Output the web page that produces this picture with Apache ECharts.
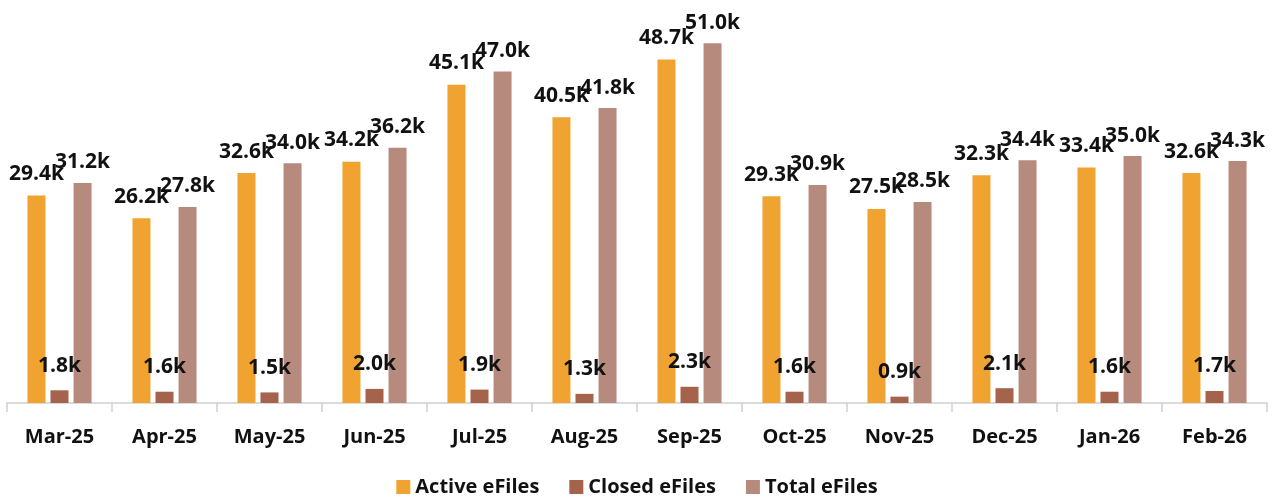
<!DOCTYPE html>
<html>
<head>
<meta charset="utf-8">
<script src="https://cdn.jsdelivr.net/npm/echarts@6/dist/echarts.min.js"></script>
<style>
  html, body { margin: 0; padding: 0; background: #fff; }
  #chart { width: 1274px; height: 503px; }
</style>
</head>
<body>
<div id="chart"></div>
<script>
const months = ['Mar-25', 'Apr-25', 'May-25', 'Jun-25', 'Jul-25', 'Aug-25', 'Sep-25', 'Oct-25', 'Nov-25', 'Dec-25', 'Jan-26', 'Feb-26'];
const activeFiles = [29.4, 26.2, 32.6, 34.2, 45.1, 40.5, 48.7, 29.3, 27.5, 32.3, 33.4, 32.6];
const closedFiles = [1.8, 1.6, 1.5, 2.0, 1.9, 1.3, 2.3, 1.6, 0.9, 2.1, 1.6, 1.7];
const totalFiles = [31.2, 27.8, 34.0, 36.2, 47.0, 41.8, 51.0, 30.9, 28.5, 34.4, 35.0, 34.3];

const font = '"Open Sans", "Liberation Sans", sans-serif';

function barSeries(name, data, color, dist) {
    return {
        name,
        type: 'bar',
        data,
        barWidth: 18,
        barGap: '28%',
        itemStyle: { color },
        label: {
            show: true,
            position: 'top',
            distance: dist,
            formatter: p => p.value.toFixed(1) + 'k',
            fontFamily: font,
            fontWeight: 'bold',
            fontSize: 21,
            color: '#111'
        }
    };
}

const chart = echarts.init(document.getElementById('chart'));
chart.setOption({
    animation: false,
    textStyle: { fontFamily: font },
    grid: { left: 7, right: 7, top: 15, bottom: 100, containLabel: false },
    legend: {
        bottom: 1,
        left: 'center',
        itemWidth: 14,
        itemHeight: 14,
        itemGap: 30,
        icon: 'rect',
        textStyle: { fontFamily: font, fontWeight: 'bold', fontSize: 20, color: '#111' }
    },
    xAxis: {
        type: 'category',
        data: months,
        axisLine: { lineStyle: { color: '#d0d0d0', width: 1.5 } },
        axisTick: { show: true, length: 9, lineStyle: { color: '#d0d0d0', width: 1.5 } },
        axisLabel: {
            margin: 24,
            fontFamily: font,
            fontWeight: 'bold',
            fontSize: 20,
            color: '#111'
        }
    },
    yAxis: {
        type: 'value',
        min: 0,
        max: 55,
        show: false,
        splitLine: { show: false }
    },
    series: [
        barSeries('Active eFiles', activeFiles, '#F0A330', 11),
        barSeries('Closed eFiles', closedFiles, '#A5634B', 14),
        barSeries('Total eFiles', totalFiles, '#B78A7E', 10)
    ]
});
</script>
</body>
</html>
